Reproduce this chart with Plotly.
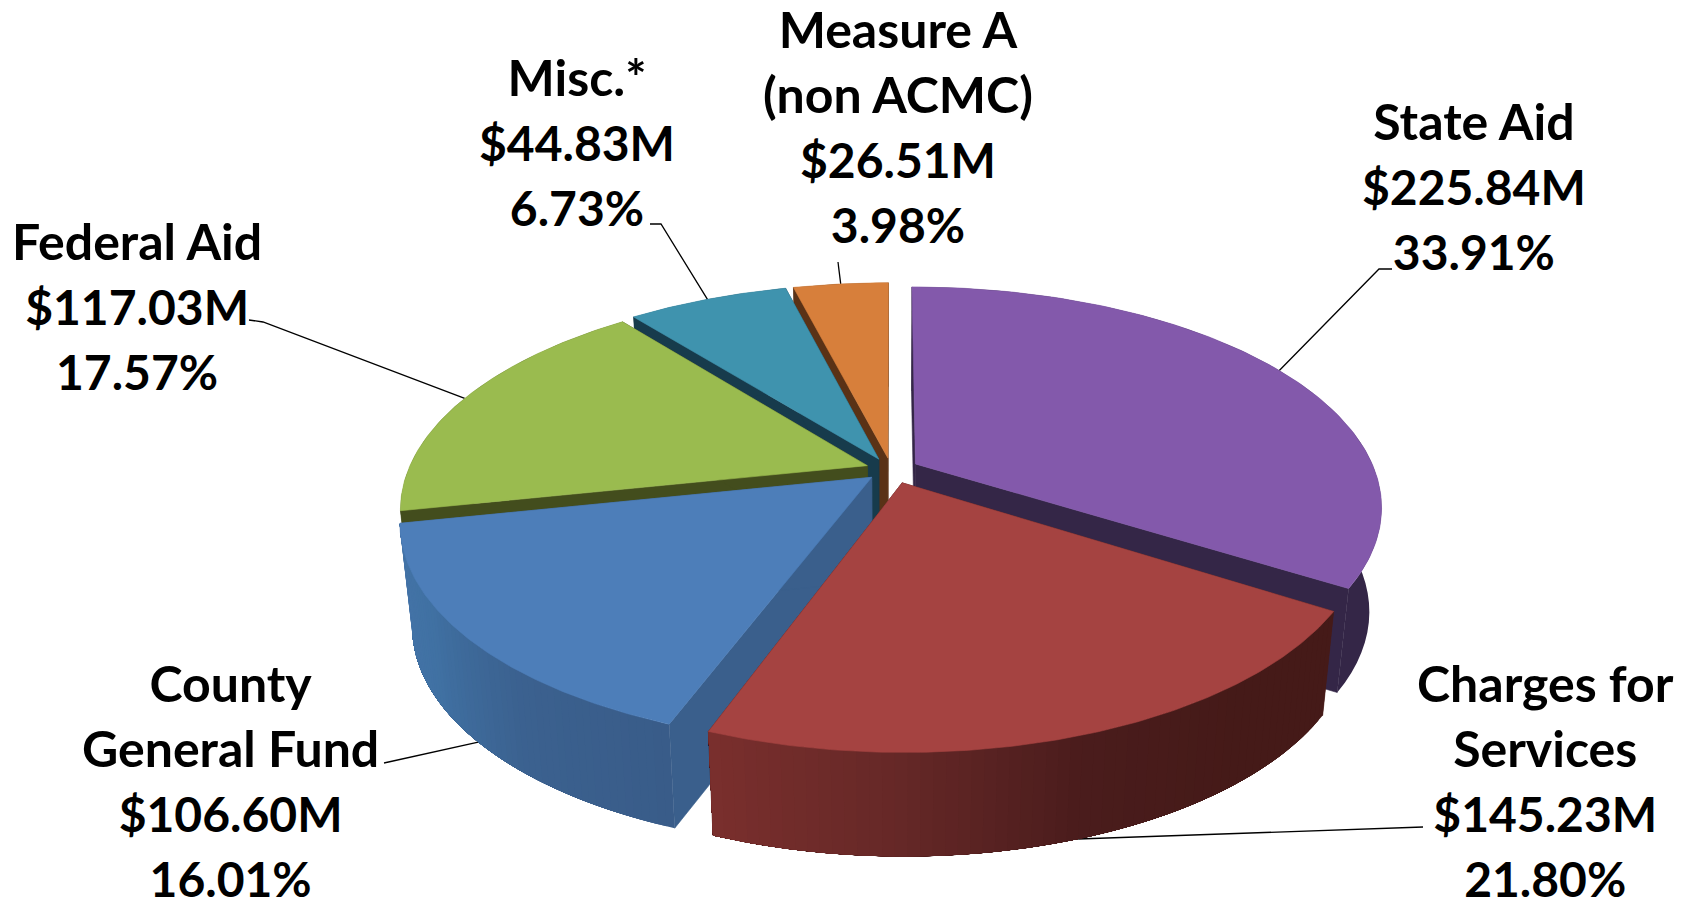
import math
import plotly.graph_objects as go

# Revenue sources, clockwise from twelve o'clock
sources = ["State Aid", "Charges for Services", "County General Fund",
           "Federal Aid", "Misc.*", "Measure A (non ACMC)"]
amounts = [225.84, 145.23, 106.60, 117.03, 44.83, 26.51]
percents = [33.91, 21.80, 16.01, 17.57, 6.73, 3.98]
label_lines = [["State Aid"], ["Charges for", "Services"], ["County", "General Fund"],
               ["Federal Aid"], ["Misc.*"], ["Measure A", "(non ACMC)"]]

top_colors = ["#8359ab", "#a54341", "#4d7eb9", "#9abb4f", "#3f93ae", "#d77f3b"]
cut_colors = ["#342647", "#4a1c19", "#3a5f8c", "#434d1d", "#173b4c", "#5a3216"]
# Outer wall shading, from the start angle to the end angle of each slice
wall_stops = [["#342647", "#342647"],
              ["#451a18", "#451a18", "#4a1c1c", "#662827", "#7a2f2d"],
              ["#395c89", "#3b618f", "#4071a3", "#4574a8"],
              ["#434d1d", "#434d1d"],
              ["#173b4c", "#173b4c"],
              ["#5a3216", "#5a3216"]]

# Projection of the tilted disc onto the page, in pixels
CX, CY = 891.0, 469.6
RX, RY = 459.0, 213.0
PERSP = 0.192
DEPTH = 104.0
SHRINK = 0.975
EXPLODE = 0.055

# Fine placement of individual slices, in pixels, and their horizontal scale
slice_shift = [(2.5, 0), (3, 2), (0, 0), (0, 0), (-1, 0), (0, 0)]
slice_xscale = [1.0, 0.983, 1.0, 1.0, 1.0, 1.0]

# Painting order, back of the pie to the front
paint_order = [5, 4, 3, 0, 2, 1]

# Where each label block sits and how its leader line bends
label_xy = [(1474, 185), (1545, 780), (230, 780), (137, 305), (577, 141), (898, 126)]
leader_bends = [[(1379, 269), (1392, 269)],
                [(1423, 827)],
                [(388, 762), (384, 763)],
                [(263, 322), (249, 320)],
                [(661, 224), (650, 224)],
                [(838, 262)]]


def project(i, u, v, bottom=False):
    w = 1 + PERSP * v
    dx, dy = slice_shift[i]
    if bottom:
        return (CX + dx + RX * u * SHRINK / w, CY + dy - RY * v / w + DEPTH)
    return (CX + dx + RX * u / w, CY + dy - RY * v / w)


def mix(a, b, t):
    ca = [int(a[i:i + 2], 16) for i in (1, 3, 5)]
    cb = [int(b[i:i + 2], 16) for i in (1, 3, 5)]
    return "#%02x%02x%02x" % tuple(round(x + (y - x) * t) for x, y in zip(ca, cb))


def ramp(stops, t):
    p = t * (len(stops) - 1)
    i = min(int(p), len(stops) - 2)
    return mix(stops[i], stops[i + 1], p - i)


def polygon(points, color, edge=0.6):
    xs = [p[0] for p in points] + [points[0][0]]
    ys = [p[1] for p in points] + [points[0][1]]
    return go.Scatter(x=xs, y=ys, mode="lines", fill="toself", fillcolor=color,
                      line=dict(color=color, width=edge), hoverinfo="skip", showlegend=False)


total = sum(amounts)
spans = []
start = 0.0
for amount in amounts:
    sweep = 2 * math.pi * amount / total
    spans.append((start, start + sweep))
    start += sweep


def rim(i, theta, bottom=False):
    mid = sum(spans[i]) / 2
    return project(i, math.sin(theta) * slice_xscale[i] + EXPLODE * math.sin(mid),
                   math.cos(theta) + EXPLODE * math.cos(mid), bottom)


def apex(i, bottom=False):
    mid = sum(spans[i]) / 2
    return project(i, EXPLODE * math.sin(mid), EXPLODE * math.cos(mid), bottom)


fig = go.Figure()

# Leader lines go underneath, so the pie hides their inner ends
for i, bends in enumerate(leader_bends):
    mid = sum(spans[i]) / 2
    anchor = rim(i, mid, bottom=math.cos(mid) < 0)
    pts = [anchor] + bends
    fig.add_trace(go.Scatter(x=[p[0] for p in pts], y=[p[1] for p in pts], mode="lines",
                             line=dict(color="#000000", width=1.3),
                             hoverinfo="skip", showlegend=False))

for i in paint_order:
    a, b = spans[i]
    # Cut faces
    for edge in (a, b):
        fig.add_trace(polygon([apex(i), rim(i, edge), rim(i, edge, True), apex(i, True)],
                              cut_colors[i]))
    # Outer wall: each band runs to the end of the arc and the next one paints
    # over it, which keeps the shading free of seams
    bands = 60 if len(set(wall_stops[i])) > 1 else 1
    for k in range(bands):
        t0 = a + (b - a) * k / bands
        angles = [t0 + (b - t0) * s / 48 for s in range(49)]
        pts = [rim(i, t) for t in angles] + [rim(i, t, True) for t in reversed(angles)]
        fig.add_trace(polygon(pts, ramp(wall_stops[i], (k + 0.5) / bands), edge=0))
    # Top face
    arc = [a + (b - a) * s / 120 for s in range(121)]
    fig.add_trace(polygon([apex(i)] + [rim(i, t) for t in arc], top_colors[i]))

# Labels: the figure lines are set slightly smaller because the digits run wide
for i, lines in enumerate(label_lines):
    numbers = [f"${amounts[i]:.2f}M", f"{percents[i]:.2f}%"]
    text = "<br>".join(lines + [f'<span style="font-size:48px">{n}</span>' for n in numbers])
    fig.add_annotation(x=label_xy[i][0], y=label_xy[i][1], text=text, showarrow=False,
                       xanchor="center", yanchor="middle", align="center",
                       font=dict(family="Lato", size=50, color="#000000", weight="bold"))

fig.update_layout(
    width=1685, height=900, margin=dict(l=0, r=0, t=0, b=0),
    paper_bgcolor="#ffffff", plot_bgcolor="#ffffff", showlegend=False,
    xaxis=dict(range=[0, 1685], visible=False, fixedrange=True),
    yaxis=dict(range=[900, 0], visible=False, fixedrange=True),
)

fig.write_html("out.html", config={"displayModeBar": False})
